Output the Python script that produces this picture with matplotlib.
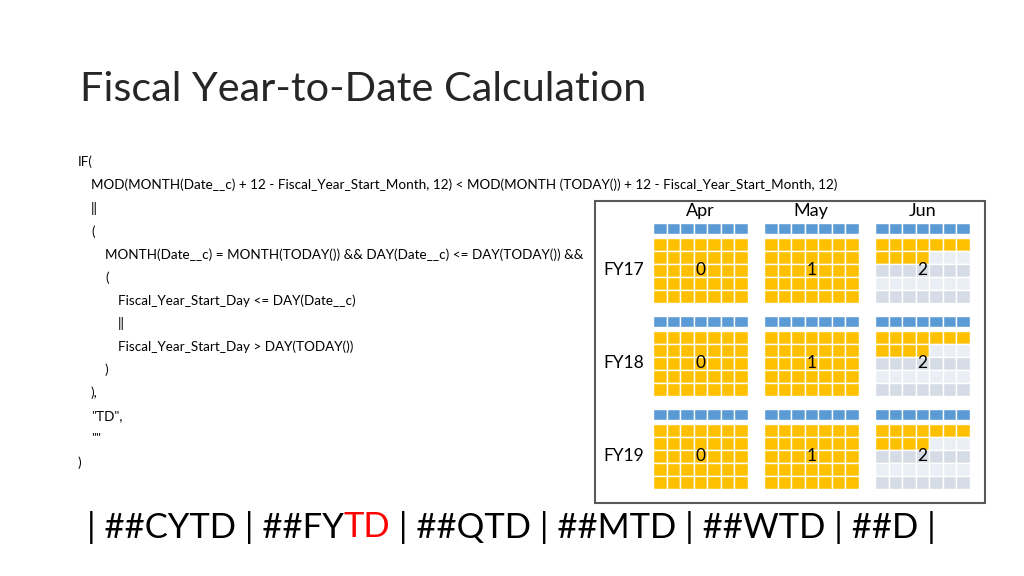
import matplotlib
matplotlib.use("Agg")
import matplotlib.pyplot as plt
from matplotlib.patches import Rectangle

plt.rcParams["font.family"] = ["Lato", "DejaVu Sans"]

title = "Fiscal Year-to-Date Calculation"

# (indent level, text)
code_lines = [
    (0, "IF("),
    (1, "MOD(MONTH(Date__c) + 12 - Fiscal_Year_Start_Month, 12) < MOD(MONTH (TODAY()) + 12 - Fiscal_Year_Start_Month, 12)"),
    (1, "||"),
    (1, "("),
    (2, "MONTH(Date__c) = MONTH(TODAY()) && DAY(Date__c) <= DAY(TODAY()) &&"),
    (2, "("),
    (3, "Fiscal_Year_Start_Day <= DAY(Date__c)"),
    (3, "||"),
    (3, "Fiscal_Year_Start_Day > DAY(TODAY())"),
    (2, ")"),
    (1, "),"),
    (1, "\"TD\","),
    (1, "\"\""),
    (0, ")"),
]

months = ["Apr", "May", "Jun"]
fiscal_years = ["FY17", "FY18", "FY19"]
month_index = [0, 1, 2]
# days elapsed (cells filled) in each month, same for every fiscal year
days_filled = [35, 35, 11]

bottom_parts = [("| ##CYTD | ##FY", "black"), ("TD", "#FF0000"),
                (" | ##QTD | ##MTD | ##WTD | ##D |", "black")]

YELLOW = "#FFC000"
BLUE = "#5B9BD5"
GREY_DARK = "#D6DCE5"
GREY_LIGHT = "#EAEEF5"

fig = plt.figure(figsize=(10.24, 5.76), dpi=100)
ax = fig.add_axes([0, 0, 1, 1])
ax.set_xlim(0, 1024)
ax.set_ylim(576, 0)
ax.axis("off")
fig.canvas.draw()
renderer = fig.canvas.get_renderer()


def fit(t, width):
    # scale font so the text spans the given pixel width
    w = t.get_window_extent(renderer).width
    t.set_fontsize(t.get_fontsize() * width / w)


t = ax.text(80, 101, title, fontsize=30, color="#262626", va="baseline")
fit(t, 565)

code_texts = []
for i, (lvl, line) in enumerate(code_lines):
    x = 78 + [0, 13, 27, 40][lvl]
    y = 162 + i * 23.1
    code_texts.append(ax.text(x, y, line, fontsize=10, va="center",
                              color="black"))
size = code_texts[1].get_fontsize() * 745 / code_texts[1].get_window_extent(renderer).width
for ct in code_texts:
    ct.set_fontsize(size)

# calendar box
ax.add_patch(Rectangle((595, 201), 390, 302, fill=False, edgecolor="#595959",
                       linewidth=1.5))

cw, ch = 13.5, 13.0
col_x0 = [653.3, 764.0, 875.0]
block_y0 = [223.3, 316.3, 409.3]

for m, label in enumerate(months):
    ax.text(col_x0[m] + 7 * cw / 2, 211, label, fontsize=13, ha="center",
            va="center", color="black")

for f, fy in enumerate(fiscal_years):
    y0 = block_y0[f]
    ax.text(603, y0 + 14.4 + 2.5 * ch, fy, fontsize=12.5, va="center",
            color="black")
    for m in range(len(months)):
        x0 = col_x0[m]
        for c in range(7):
            ax.add_patch(Rectangle((x0 + c * cw, y0), cw, 11.0,
                                   facecolor=BLUE, edgecolor="white",
                                   linewidth=1.0))
        for r in range(5):
            for c in range(7):
                day = r * 7 + c
                if day < days_filled[m]:
                    color = YELLOW
                else:
                    color = GREY_DARK if r % 2 == 0 else GREY_LIGHT
                ax.add_patch(Rectangle((x0 + c * cw, y0 + 14.4 + r * ch), cw, ch,
                                       facecolor=color, edgecolor="white",
                                       linewidth=1.0))
        ax.text(x0 + 3.5 * cw, y0 + 14.4 + 2.5 * ch, str(month_index[m]),
                fontsize=12.5, ha="center", va="center", color="black")

# bottom line with red TD
parts = []
for txt, col in bottom_parts:
    parts.append(ax.text(0, 527, txt, fontsize=24, color=col, va="center"))
total = sum(p.get_window_extent(renderer).width for p in parts)
bsize = 24 * 850 / total
x = 87
for p in parts:
    p.set_fontsize(bsize)
    p.set_x(x)
    w = p.get_window_extent(renderer).width
    x += w

fig.savefig("out.png", dpi=100)
